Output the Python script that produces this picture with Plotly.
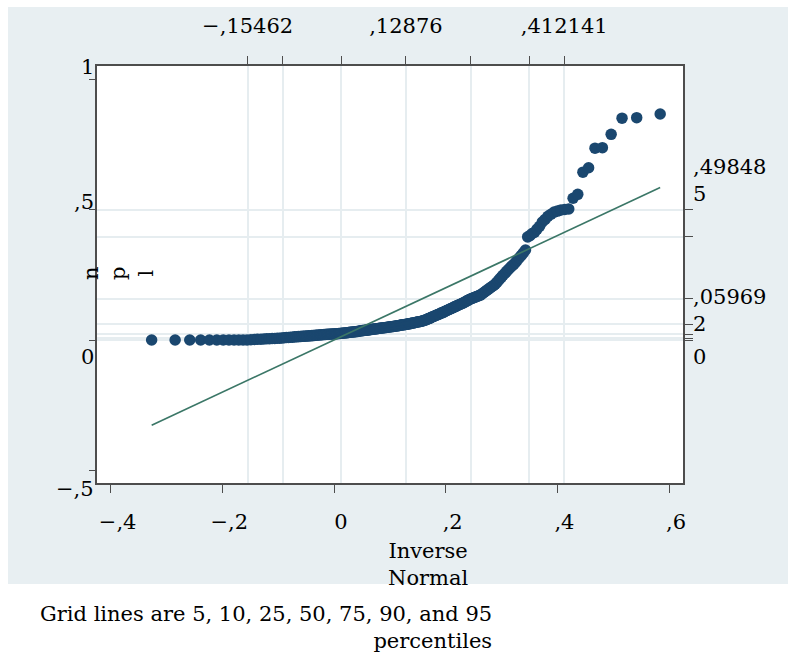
import plotly.graph_objects as go
from statistics import NormalDist

# ---------------- data ----------------
# sorted values of the variable (npl), one per observation, N = 242
npl_sorted = [
    0.000, 0.000, 0.000, 0.000, 0.000, 0.000, 0.000, 0.000, 0.000, 0.000,
    0.000, 0.000, 0.001, 0.002, 0.003, 0.003, 0.004, 0.005, 0.005, 0.006,
    0.006, 0.007, 0.007, 0.008, 0.009, 0.010, 0.010, 0.011, 0.011, 0.012,
    0.012, 0.013, 0.013, 0.014, 0.014, 0.015, 0.015, 0.016, 0.016, 0.017,
    0.017, 0.018, 0.018, 0.019, 0.019, 0.020, 0.020, 0.021, 0.021, 0.022,
    0.022, 0.022, 0.023, 0.023, 0.023, 0.024, 0.024, 0.024, 0.025, 0.025,
    0.026, 0.026, 0.027, 0.027, 0.028, 0.028, 0.029, 0.030, 0.030, 0.031,
    0.031, 0.032, 0.032, 0.033, 0.033, 0.034, 0.035, 0.035, 0.036, 0.036,
    0.037, 0.037, 0.038, 0.038, 0.039, 0.040, 0.040, 0.041, 0.041, 0.042,
    0.042, 0.043, 0.043, 0.044, 0.045, 0.045, 0.046, 0.046, 0.047, 0.047,
    0.048, 0.048, 0.049, 0.050, 0.050, 0.051, 0.051, 0.052, 0.052, 0.053,
    0.054, 0.054, 0.055, 0.055, 0.056, 0.057, 0.057, 0.058, 0.058, 0.059,
    0.0597, 0.060, 0.061, 0.062, 0.062, 0.063, 0.064, 0.065, 0.065, 0.066,
    0.067, 0.068, 0.069, 0.070, 0.070, 0.071, 0.072, 0.073, 0.074, 0.076,
    0.077, 0.078, 0.080, 0.082, 0.083, 0.085, 0.087, 0.089, 0.090, 0.092,
    0.094, 0.096, 0.097, 0.099, 0.101, 0.103, 0.104, 0.106, 0.108, 0.110,
    0.112, 0.114, 0.116, 0.118, 0.120, 0.122, 0.124, 0.126, 0.128, 0.130,
    0.132, 0.134, 0.136, 0.138, 0.140, 0.142, 0.145, 0.147, 0.150, 0.152,
    0.155, 0.157, 0.159, 0.161, 0.163, 0.165, 0.167, 0.169, 0.171, 0.173,
    0.177, 0.181, 0.185, 0.189, 0.193, 0.197, 0.201, 0.205, 0.209, 0.214,
    0.220, 0.227, 0.234, 0.241, 0.248, 0.255, 0.262, 0.269, 0.276, 0.283,
    0.289, 0.297, 0.306, 0.315, 0.324, 0.334, 0.345, 0.395, 0.400, 0.408,
    0.413, 0.425, 0.436, 0.452, 0.462, 0.474, 0.482, 0.490, 0.494, 0.4985,
    0.500, 0.502, 0.543, 0.558, 0.643, 0.660, 0.735, 0.737, 0.788, 0.850,
    0.852, 0.866,
]

grid_percentiles = [5, 10, 25, 50, 75, 90, 95]

# fitted normal: 5th, 50th and 95th percentiles (top axis labels)
top_label_vals = [-0.15462, 0.12876, 0.412141]
top_label_text = ["\u2212,15462", ",12876", ",412141"]

# data percentiles 5,10,25,50,75,90,95 (right axis ticks / horizontal grid)
y_pct_vals = [0.0, 0.006, 0.023, 0.059692, 0.159, 0.395, 0.498485]
right_label_vals = [0.498485, 0.059692, 0.0]
right_label_text = [",49848<br>5", ",05969<br>2", "0"]

x_tick_vals = [-0.4, -0.2, 0.0, 0.2, 0.4, 0.6]
x_tick_text = ["\u2212,4", "\u2212,2", "0", ",2", ",4", ",6"]
left_tick_vals = [1.0, 0.5, 0.0, -0.5]
left_tick_text = ["1", ",5", "0", "\u2212,5"]

y_title = "n<br>p<br>l"
x_title = "Inverse<br>Normal"
note_text = "Grid lines are 5, 10, 25, 50, 75, 90, and 95<br>percentiles"

# ---------------- derived (qnorm) ----------------
nd = NormalDist()
mu = top_label_vals[1]
sd = (top_label_vals[2] - top_label_vals[0]) / (2 * nd.inv_cdf(0.95))
N = len(npl_sorted)
x_q = [mu + sd * nd.inv_cdf(i / (N + 1)) for i in range(1, N + 1)]
x_pct_vals = [mu + sd * nd.inv_cdf(p / 100) for p in grid_percentiles]
top_tick_text = []
for p in grid_percentiles:
    if p == 5:
        top_tick_text.append(top_label_text[0])
    elif p == 50:
        top_tick_text.append(top_label_text[1])
    elif p == 95:
        top_tick_text.append(top_label_text[2])
    else:
        top_tick_text.append("")

# ---------------- layout geometry (page pixels) ----------------
W, H = 788, 655
L, T, R, B = 97, 66, 105, 172
PW, PH = W - L - R, H - T - B


def pxp(px):
    return (px - L) / PW


def pyp(py):
    return 1 - (py - T) / PH


X_RANGE = [-0.42435, 0.62489]
Y_RANGE = [-0.54789, 1.04981]

FONT = "DejaVu Serif"
FS = 21
BG = "#e8eff2"
GRID = "#e6edf0"
AX = "#4d4d4d"
NAVY = "#1a476f"
GREEN = "#3b7767"

fig = go.Figure()
fig.add_trace(go.Scatter(
    x=x_q, y=npl_sorted, mode="markers",
    marker=dict(color=NAVY, size=11.5, line=dict(width=0)),
    xaxis="x", yaxis="y", showlegend=False, hoverinfo="skip"))
fig.add_trace(go.Scatter(
    x=[x_q[0], x_q[-1]], y=[x_q[0], x_q[-1]], mode="lines",
    line=dict(color=GREEN, width=1.6),
    xaxis="x2", yaxis="y2", showlegend=False, hoverinfo="skip"))

tickfont = dict(family=FONT, size=FS, color="black")

fig.update_layout(
    width=W, height=H,
    margin=dict(l=L, r=R, t=T, b=B, pad=0),
    paper_bgcolor=BG, plot_bgcolor="white",
    font=dict(family=FONT, size=FS, color="black"),
    xaxis=dict(range=X_RANGE, tickvals=x_tick_vals, ticktext=x_tick_text,
               ticks="outside", ticklen=8, tickwidth=1.3, tickcolor=AX,
               showline=True, linecolor=AX, linewidth=1.5,
               showgrid=False, zeroline=False, tickfont=tickfont,
               ticklabelshift=7, ticklabelstandoff=11),
    xaxis2=dict(range=X_RANGE, overlaying="x", side="top", anchor="y",
                tickvals=x_pct_vals, ticktext=top_tick_text,
                ticks="outside", ticklen=8, tickwidth=1.3, tickcolor=AX,
                showline=True, linecolor=AX, linewidth=1.5,
                showgrid=True, gridcolor=GRID, gridwidth=1.5,
                zeroline=False, tickfont=tickfont, ticklabelstandoff=15),
    yaxis=dict(range=Y_RANGE, tickvals=left_tick_vals, showticklabels=False,
               ticks="outside", ticklen=6, tickwidth=1.3, tickcolor=AX,
               showline=True, linecolor=AX, linewidth=1.5,
               showgrid=False, zeroline=False),
    yaxis2=dict(range=Y_RANGE, overlaying="y", side="right", anchor="x",
                tickvals=y_pct_vals, showticklabels=False,
                ticks="outside", ticklen=8, tickwidth=1.3, tickcolor=AX,
                showline=True, linecolor=AX, linewidth=1.5,
                showgrid=True, gridcolor=GRID, gridwidth=1.5,
                zeroline=False),
)

# white page areas around the graph region (outside the plot area)
white = dict(fillcolor="white", line=dict(width=0), layer="below",
             xref="paper", yref="paper", type="rect")
fig.add_shape(x0=pxp(-20), x1=pxp(8), y0=pyp(700), y1=pyp(-20), **white)
fig.add_shape(x0=pxp(-20), x1=pxp(820), y0=pyp(7), y1=pyp(-20), **white)
fig.add_shape(x0=pxp(-20), x1=pxp(820), y0=pyp(700), y1=pyp(584), **white)

annos = []
left_shift = [12, 8, -17, -18]
for v, t, s in zip(left_tick_vals, left_tick_text, left_shift):
    annos.append(dict(x=pxp(96), xref="paper", y=v, yref="y", yshift=s,
                      text=t, showarrow=False, xanchor="right",
                      yanchor="middle", font=tickfont))
right_shift = [29, 14, -17]
for v, t, s in zip(right_label_vals, right_label_text, right_shift):
    annos.append(dict(x=pxp(691), xref="paper", y=v, yref="y", yshift=s,
                      text=t, showarrow=False, xanchor="left", align="left",
                      yanchor="middle", font=tickfont))
annos.append(dict(x=pxp(118), y=pyp(273), xref="paper", yref="paper",
                  text=y_title, textangle=-90, showarrow=False,
                  xanchor="center", yanchor="middle", font=tickfont))
annos.append(dict(x=pxp(428), y=pyp(564), xref="paper", yref="paper",
                  text=x_title, showarrow=False, align="center",
                  xanchor="center", yanchor="middle", font=tickfont))
annos.append(dict(x=pxp(494), y=pyp(627), xref="paper", yref="paper",
                  text=note_text, showarrow=False, align="right",
                  xanchor="right", yanchor="middle", font=tickfont))
fig.update_layout(annotations=annos)

fig.write_html(
    "out.html",
    config={"displayModeBar": False},
    post_script="document.body.style.margin='0';"
                "document.body.style.overflow='hidden';",
)
